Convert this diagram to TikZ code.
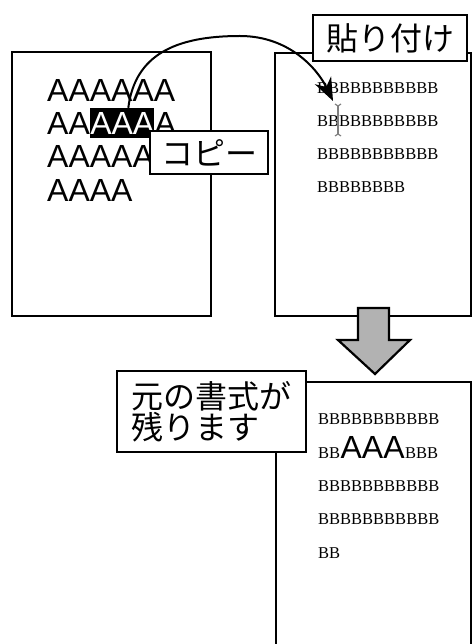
\documentclass[tikz,border=0pt]{standalone}
\usepackage{fontspec}
\setmainfont{Liberation Serif}
\newfontfamily\latinSans{Liberation Sans}
\newfontfamily\jpSans{Noto Sans CJK JP}
\usetikzlibrary{arrows.meta}
\usetikzlibrary{calc}
\newcommand{\bigSans}{\latinSans\fontsize{32pt}{32pt}\selectfont}
\newcommand{\smallSerif}{\fontsize{16.5pt}{18pt}\selectfont}
\newcommand{\jpLarge}{\jpSans\fontsize{32pt}{31pt}\selectfont}
\newcommand{\aLine}[3]{%%
  \node[aStyle] (#1) at (#2) {#3};
}
\newcommand{\bLine}[3]{%%
  \node[bStyle] (#1) at (#2) {#3};
}
\newcommand{\textCursor}{%%
  %% The I-beam cursor.
  \draw[cursorStyle] (335,104) -- (cursorTop) -- (341,104);
  \draw[cursorStyle] (cursorTop) -- (cursorBottom);
  \draw[cursorStyle] (335,136) -- (cursorBottom) -- (341,136);
}

\begin{document}
\begin{tikzpicture}[%%
  x=1pt,y=-1pt,%%
  pageStyle/.style={draw,line width=2.2pt,fill=white,inner sep=0pt},%%
  labelStyle/.style={draw,line width=2.6pt,fill=white,font=\jpLarge,inner sep=0pt},%%
  aStyle/.style={anchor=base west,inner sep=0pt,font=\bigSans},%%
  bStyle/.style={anchor=base west,inner sep=0pt,font=\smallSerif},%%
  selStyle/.style={aStyle,fill=black,text=white,text height=27pt,text depth=3pt},%%
  arcStyle/.style={-{Stealth[length=23pt,width=18pt]},line width=2pt},%%
  cursorStyle/.style={gray,line width=1.2pt},%%
  blockStyle/.style={draw,line width=2.2pt,fill=gray!60,line join=miter}%%
]
\useasboundingbox (0,0) rectangle (472,644);
%%
%% The pages.
\node[pageStyle,minimum width=199,minimum height=264] (srcPage) at (111.5,184) {};
\node[pageStyle,minimum width=196,minimum height=263] (dstPage) at (373,184.5) {};
\draw[line width=2.2pt] (276,650) -- (276,382) coordinate (resCorner) -- (471,382) -- (471,650);
%% The block arrow between the pages.
\draw[blockStyle] (358,308) -- (389,308) -- (389,340) -- (410,340) -- (375,374)
  -- (338,340) -- (358,340) -- cycle;
%%
%% The copied text.
\aLine{srcLineA}{47,102}{AAAAAA}
\aLine{srcAA}{47,135}{AA}
\node[selStyle] (srcSel) at (srcAA.base east) {AAA};
\node[aStyle] (srcA) at (srcSel.base east) {A};
\aLine{srcLineC}{47,168}{AAAAA}
\aLine{srcLineD}{47,201.5}{AAAA}
%% The text to paste into.
\bLine{dstLineA}{317,94}{BBBBBBBBBBB}
\bLine{dstLineB}{317,127}{BBBBBBBBBBB}
\bLine{dstLineC}{317,160}{BBBBBBBBBBB}
\bLine{dstLineD}{317,193}{BBBBBBBB}
%% The result.
\bLine{resLineA}{318,424}{BBBBBBBBBBB}
\bLine{resBB}{318,458}{BB}
\node[aStyle] (resAAA) at (resBB.base east) {AAA};
\node[bStyle] (resBBB) at (resAAA.base east) {BBB};
\bLine{resLineC}{318,491}{BBBBBBBBBBB}
\bLine{resLineD}{318,524}{BBBBBBBBBBB}
\bLine{resLineE}{318,558}{BB}
%%
%% The cursor and the copy arc.
\coordinate (cursorTop) at (338,106);
\coordinate (cursorBottom) at (338,134);
\coordinate (pastePoint) at (333,101);
\coordinate (arcTop) at (240,36);
\textCursor
\draw[arcStyle] ($(srcSel.north)+(6,0)$) .. controls (135,55) and (175,36) .. (arcTop)
  .. controls (290,36) and (318,70) .. (pastePoint);
%%
%% The labels.
\node[labelStyle,minimum width=118,minimum height=43] (copyLabel) at (209,152.5) {コピー};
\node[labelStyle,minimum width=154,minimum height=46] (pasteLabel) at (390,38) {貼り付け};
\node[labelStyle,minimum width=189,minimum height=81,align=left] (keepLabel) at (211.5,411.5)
  {元の書式が\\残ります};
\end{tikzpicture}
\end{document}
